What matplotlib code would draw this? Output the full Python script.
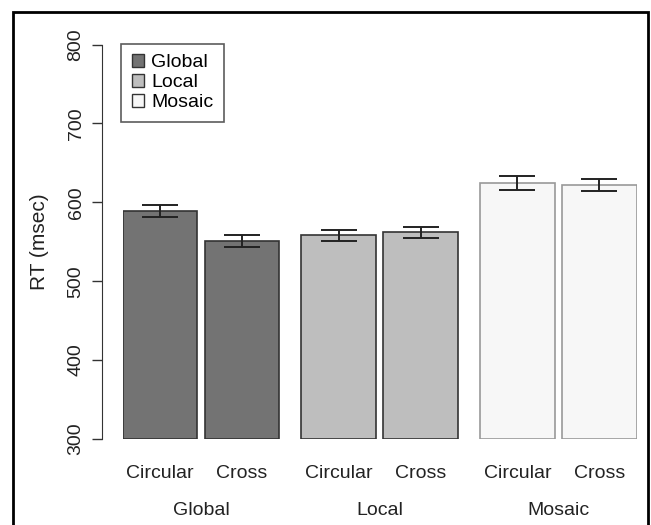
import matplotlib
matplotlib.use("Agg")
from matplotlib import pyplot as plt
from matplotlib.patches import Rectangle, Patch

plt.rcParams['font.family'] = ['Liberation Sans', 'DejaVu Sans']

groups = ['Global', 'Local', 'Mosaic']
shapes = ['Circular', 'Cross']
rt_circular = [589, 558, 625]
rt_cross = [551, 562, 622]
err_circular = [8, 7, 9]
err_cross = [7, 7, 8]
fills = ['#737373', '#bebebe', '#f7f7f7']
edges = ['#333333', '#333333', '#999999']

fig = plt.figure(figsize=(6.51, 5.25), dpi=100)
ax = fig.add_axes([122.7 / 651, 86 / 525, 513.9 / 651, 394.4 / 525])

width = 1.0
for g in range(3):
    left = g * 2.4
    xs = [left + 0.5, left + 1.6]
    vals = [rt_circular[g], rt_cross[g]]
    errs = [err_circular[g], err_cross[g]]
    ax.bar(xs, [v - 300 for v in vals], bottom=300, width=width,
           color=fills[g], edgecolor=edges[g], linewidth=1.2, zorder=2)
    ax.errorbar(xs, vals, yerr=errs, fmt='none', ecolor='#222222',
                elinewidth=1.4, capsize=13, capthick=1.4, zorder=3)
    for x, s in zip(xs, shapes):
        ax.annotate(s, (x, 0), xycoords=('data', 'axes fraction'),
                    xytext=(0, -24.5), textcoords='offset points',
                    ha='center', va='center', fontsize=14, color='#222222')
    ax.annotate(groups[g], (left + 1.05, 0), xycoords=('data', 'axes fraction'),
                xytext=(0, -51.5), textcoords='offset points',
                ha='center', va='center', fontsize=14, color='#222222')

ax.set_xlim(0, 6.9)
ax.set_ylim(300, 800)
for s in ['top', 'right', 'bottom']:
    ax.spines[s].set_visible(False)
ax.spines['left'].set_position(('outward', 15))
ax.spines['left'].set_bounds(300, 800)
ax.spines['left'].set_color('#333333')
ax.set_xticks([])
ax.set_yticks([300, 400, 500, 600, 700, 800])
ax.tick_params(axis='y', length=7, width=1, color='#333333', pad=5.5,
               labelsize=14, labelcolor='#222222')
for lab in ax.get_yticklabels():
    lab.set_rotation(90)
    lab.set_va('center')
ax.set_ylabel('RT (msec)', fontsize=15, color='#222222')
ax.yaxis.set_label_coords((49 - 122.7) / 513.9, 0.5)

handles = [Patch(facecolor=fills[i], edgecolor='#333333', linewidth=1) for i in range(3)]
leg = fig.legend(handles, groups, loc='upper left',
                 bbox_to_anchor=(121 / 651, 1 - 43.6 / 525), fontsize=14,
                 handlelength=0.65, handleheight=0.6, handletextpad=0.35,
                 labelspacing=0.15, borderpad=0.55, borderaxespad=0,
                 fancybox=False, frameon=True)
leg.get_frame().set_edgecolor('#333333')
leg.get_frame().set_linewidth(1.2)

fig.patches.append(Rectangle((12.5 / 651, -0.02), 635 / 651, 1.02 - 11.7 / 525,
                             transform=fig.transFigure, fill=False,
                             edgecolor='black', linewidth=2))

fig.savefig('out.png', dpi=100)
